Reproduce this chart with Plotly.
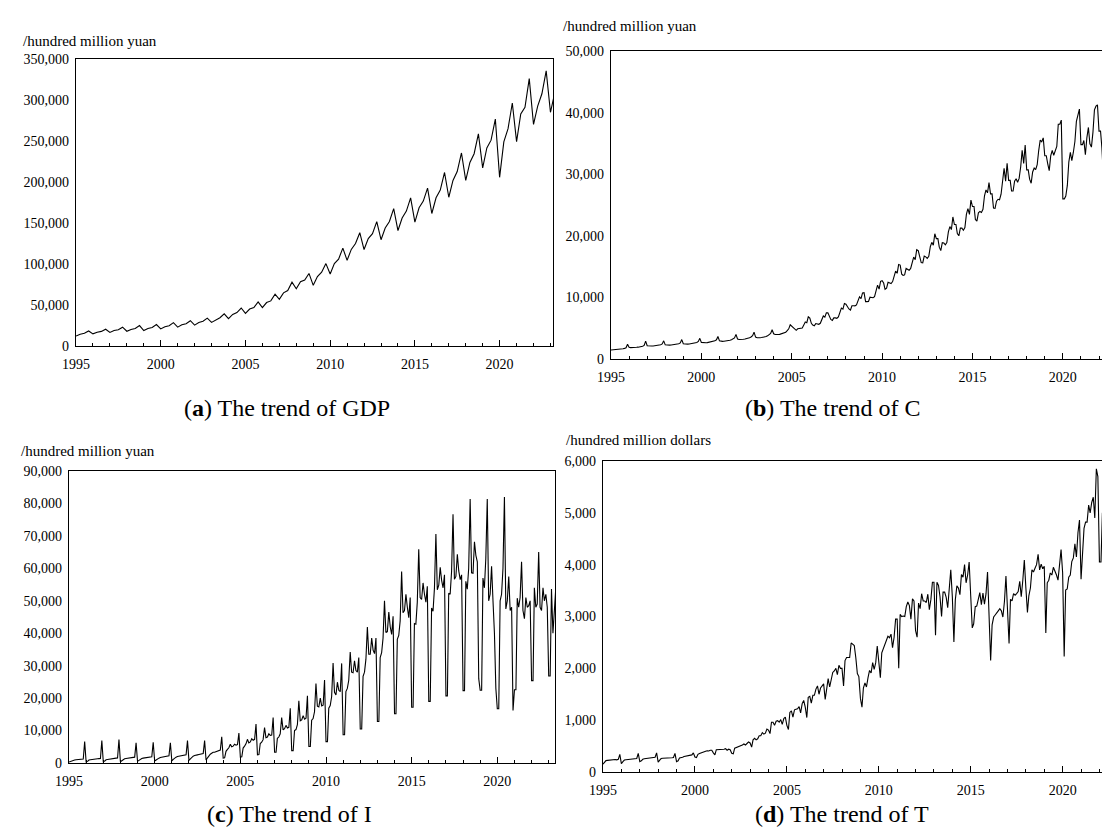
import pandas as pd
import plotly.graph_objects as go

# ---------------- data ----------------
# (a) GDP, quarterly, hundred million yuan, 1995Q1 - 2023Q2
gdp_values = [
    12200, 14400, 15500, 18300,
    14800, 16800, 17800, 20500,
    16500, 18800, 19900, 22900,
    18000, 20200, 21300, 24900,
    18900, 21400, 22500, 26200,
    20800, 23500, 24800, 28500,
    23000, 25800, 27200, 30800,
    25400, 28600, 30200, 34000,
    28800, 32000, 34500, 39200,
    33400, 38500, 40700, 46300,
    39800, 45000, 46800, 53800,
    46800, 53000, 55000, 63200,
    57000, 64800, 67600, 77800,
    69800, 78500, 80500, 88500,
    74000, 84600, 90000, 100500,
    87900, 100500, 106000, 119300,
    104500, 117800, 125000, 138200,
    117600, 131000, 137000, 151700,
    129600, 143900, 151900, 167500,
    140800, 156000, 164500, 180700,
    151100, 168500, 176700, 192500,
    161600, 180700, 190100, 211600,
    181400, 201900, 212800, 235400,
    202000, 223900, 234500, 258800,
    217200, 241500, 251000, 276800,
    205700, 249000, 265000, 296300,
    249300, 282900, 291000, 326100,
    270200, 292500, 307600, 335500,
    285000, 308000,
]

# (b) C, monthly, hundred million yuan, 1995-01 onwards
c_values = [
    1460, 1470, 1490, 1500, 1520, 1540, 1560, 1600, 1660, 1720, 1820, 2380,
    1900, 1850, 1840, 1860, 1880, 1900, 1920, 1960, 2020, 2080, 2200, 2900,
    2150, 2100, 2080, 2100, 2120, 2150, 2170, 2200, 2260, 2320, 2450, 2950,
    2300, 2250, 2230, 2250, 2270, 2300, 2320, 2360, 2420, 2480, 2620, 3150,
    2480, 2420, 2400, 2420, 2440, 2470, 2500, 2540, 2600, 2680, 2850, 3350,
    2700, 2640, 2620, 2640, 2660, 2700, 2730, 2780, 2850, 2950, 3120, 3650,
    2950, 2880, 2860, 2880, 2900, 2950, 2980, 3040, 3120, 3230, 3420, 4000,
    3250, 3170, 3150, 3170, 3200, 3250, 3290, 3350, 3440, 3570, 3780, 4350,
    3550, 3460, 3420, 3440, 3480, 3520, 3560, 3640, 3760, 3900, 4150, 4750,
    4100, 3980, 3940, 3970, 4000, 4060, 4120, 4200, 4350, 4600, 4900, 5550,
    5300, 5010, 4800, 4660, 4900, 4930, 4930, 5040, 5500, 6000, 5900, 6850,
    6640, 5790, 5520, 5380, 5750, 5750, 5630, 5790, 6300, 6990, 6800, 7500,
    7490, 6730, 6430, 6270, 6670, 6670, 6610, 6830, 7490, 8260, 8100, 9020,
    8900, 8350, 8120, 7950, 8640, 8640, 8630, 8770, 9450, 10080, 9790, 10730,
    10760, 9320, 9320, 9340, 10030, 10020, 9940, 10120, 11090, 12000, 11340, 12610,
    12720, 12330, 11320, 11510, 12460, 12330, 12250, 12570, 13540, 14280, 13910, 15330,
    15250, 13770, 13590, 13650, 14700, 14570, 14410, 14710, 15870, 16550, 16130, 17740,
    17580, 16300, 15650, 15600, 16710, 16580, 16320, 16660, 18230, 18930, 18480, 20330,
    19540, 19540, 18160, 17600, 18890, 18830, 18520, 18890, 20650, 21490, 21010, 23060,
    21830, 21830, 20360, 20000, 21250, 21250, 20900, 21350, 23520, 24400, 23480, 25800,
    24750, 24750, 22650, 22390, 23720, 23950, 23780, 24300, 26500, 27450, 26980, 28630,
    26800, 26800, 24520, 24450, 25630, 25930, 25860, 26750, 28810, 30960, 28870, 31760,
    29000, 29000, 27280, 27280, 28880, 29270, 28700, 29320, 31170, 33880, 31760, 34730,
    30700, 30700, 29190, 28540, 30360, 31000, 30730, 31540, 33880, 35530, 35260, 35890,
    33000, 33000, 31730, 30590, 32960, 33880, 33070, 33900, 34500, 38100, 38100, 38780,
    26000, 26000, 26450, 28180, 31970, 33530, 32200, 33570, 35300, 38580, 39510, 40570,
    34800, 34800, 35480, 33150, 35950, 37590, 34930, 34400, 36830, 40450, 41040, 41270,
    37000, 37000, 34230, 29480, 33550, 38740, 35870, 36260, 37750, 40270, 38610, 40540,
    38500, 38500, 37320, 34910, 37800, 39950,
]

# (c) I, monthly, hundred million yuan
i_values = [
    300, 500, 700, 800, 900, 1000, 1000, 1050, 1100, 1150, 1200, 6600,
    300, 500, 900, 1000, 1100, 1200, 1200, 1250, 1300, 1350, 1400, 6900,
    400, 600, 1000, 1100, 1200, 1300, 1300, 1400, 1450, 1500, 1550, 7200,
    400, 700, 1100, 1300, 1400, 1500, 1500, 1600, 1700, 1750, 1800, 6200,
    500, 800, 1200, 1400, 1500, 1600, 1600, 1700, 1800, 1850, 1900, 6400,
    600, 900, 1300, 1500, 1700, 1800, 1800, 1900, 2000, 2100, 2200, 6200,
    700, 1100, 1500, 1800, 2000, 2100, 2100, 2200, 2300, 2400, 2500, 6900,
    800, 1300, 1800, 2100, 2300, 2500, 2500, 2600, 2700, 2800, 2900, 6900,
    900, 1600, 2200, 2700, 3000, 3300, 3300, 3500, 3600, 3800, 4000, 8100,
    1500, 1600, 3600, 4200, 4700, 5800, 5000, 5200, 5800, 5500, 5700, 9200,
    1800, 1900, 4600, 5200, 5900, 7300, 6200, 6500, 7500, 7000, 7300, 12000,
    2500, 2600, 6000, 6400, 7200, 10900, 7800, 8000, 9000, 8500, 8600, 14000,
    3300, 3300, 7600, 8000, 9000, 14000, 10200, 10600, 11600, 10800, 11000, 16900,
    3800, 3800, 10000, 10300, 11800, 19200, 13000, 13300, 14600, 13500, 13800, 20700,
    5100, 5100, 13200, 13700, 15800, 24500, 17500, 17300, 20000, 17600, 17800, 25600,
    6600, 6600, 16900, 17700, 20400, 30800, 21800, 21000, 24900, 22400, 22000, 30700,
    8700, 8700, 22000, 23000, 25500, 34200, 28000, 27800, 31500, 28500, 28000, 32500,
    10500, 10500, 26700, 28000, 32000, 41900, 33500, 33500, 38500, 34800, 33700, 38500,
    12800, 12800, 32500, 34000, 38500, 50000, 40200, 40500, 46500, 42000, 39600, 45200,
    15200, 15200, 38100, 39300, 43800, 59000, 46300, 47000, 52000, 48000, 44800, 51000,
    17200, 17200, 43000, 42800, 49500, 65900, 51000, 50400, 55500, 52000, 49600, 54500,
    19000, 19000, 47800, 46800, 53900, 70600, 53400, 54800, 60300, 56300, 54000, 58000,
    20700, 20700, 52300, 52000, 59000, 76700, 56600, 57500, 64300, 59200, 56500, 58000,
    22300, 22300, 56000, 53600, 60000, 81400, 58600, 58500, 68200, 64000, 62000, 26000,
    22400, 22400, 57000, 54000, 63000, 81400, 50000, 52000, 60600, 50000, 40000, 23000,
    16700, 16700, 50000, 52000, 60000, 82000, 47500, 50000, 57500, 47000, 48000, 16200,
    22600, 22600, 50800, 48000, 51000, 62000, 47000, 44500, 51000, 48000, 48500, 50000,
    25400, 25400, 54000, 48000, 49000, 65000, 48000, 47000, 54000, 50000, 52000, 48000,
    26800, 26800, 53600, 40000, 47000, 54000,
]

# (d) T, monthly, hundred million dollars
t_values = [
    150, 190, 220, 225, 230, 235, 230, 235, 240, 235, 245, 340,
    160, 200, 230, 235, 240, 245, 245, 250, 250, 255, 260, 360,
    200, 215, 245, 255, 260, 265, 270, 270, 275, 280, 285, 370,
    190, 230, 260, 265, 265, 270, 270, 265, 270, 275, 280, 360,
    200, 215, 270, 275, 285, 300, 305, 310, 320, 325, 330, 370,
    290, 280, 340, 355, 370, 385, 390, 400, 410, 405, 420, 420,
    370, 330, 430, 430, 430, 440, 440, 440, 450, 420, 440, 430,
    360, 350, 460, 470, 480, 490, 500, 520, 540, 520, 550, 580,
    560, 480, 620, 650, 620, 640, 700, 700, 760, 730, 750, 830,
    810, 740, 960, 960, 900, 980, 990, 960, 1010, 920, 1030, 1060,
    900, 820, 1150, 1180, 1060, 1200, 1210, 1220, 1260, 1140, 1320, 1380,
    1250, 1050, 1440, 1460, 1330, 1480, 1480, 1600, 1660, 1500, 1620, 1670,
    1700, 1400, 1650, 1800, 1640, 1800, 1920, 1950, 2000, 1880, 2060, 2000,
    2000, 1660, 2150, 2210, 2210, 2210, 2490, 2460, 2440, 2210, 1900, 1840,
    1420, 1250, 1620, 1720, 1640, 1820, 1960, 1910, 2110, 1980, 2110, 2430,
    2050, 1820, 2300, 2380, 2430, 2540, 2620, 2590, 2660, 2400, 2600, 2950,
    2950, 2000, 3040, 3000, 3010, 3000, 3190, 3280, 3210, 2950, 3340, 3300,
    2730, 2600, 3260, 3150, 3440, 3300, 3300, 3270, 3430, 3130, 3330, 3660,
    3660, 2640, 3660, 3600, 3380, 3000, 3470, 3470, 3370, 3170, 3590, 3900,
    3380, 2510, 3320, 3590, 3550, 3420, 3810, 3760, 4000, 3650, 3800, 4050,
    3400, 2780, 2860, 3190, 3200, 3370, 3460, 3230, 3450, 3240, 3440, 3860,
    2930, 2150, 2840, 2990, 3030, 3080, 3110, 3150, 3110, 2990, 3290, 3780,
    3130, 2480, 3330, 3300, 3440, 3410, 3440, 3480, 3680, 3380, 3700, 4090,
    3550, 3080, 3400, 3550, 3900, 3860, 3930, 4000, 4200, 3900, 4010, 3920,
    3970, 2680, 3650, 3700, 3840, 3800, 3950, 3890, 3800, 3700, 3970, 4290,
    3850, 2230, 3510, 3530, 3760, 3800, 4060, 4130, 4400, 4150, 4620, 4860,
    3720, 4180, 4700, 4820, 4820, 5150, 5000, 5200, 5300, 4900, 5850, 5700,
    4050, 4050, 5000, 4950, 5000, 5550, 5600, 5550, 5450, 5100, 5300, 5150,
    4400, 4400, 5050, 5000, 5010, 5000,
]

captions = ["The trend of GDP", "The trend of C", "The trend of I", "The trend of T"]
caption_letters = ["a", "b", "c", "d"]
unit_labels = ["/hundred million yuan", "/hundred million yuan",
               "/hundred million yuan", "/hundred million dollars"]

# dates
gdp_x = pd.date_range("1995-01-01", periods=len(gdp_values), freq="QS")
c_x = pd.date_range("1995-01-01", periods=len(c_values), freq="MS")
i_x = pd.date_range("1995-01-01", periods=len(i_values), freq="MS")
t_x = pd.date_range("1995-01-01", periods=len(t_values), freq="MS")

W, H = 1110, 827
FONT = "Liberation Serif, Times New Roman, serif"


def fx(px):
    return px / W


def fy(py):
    return 1 - py / H


# panel boxes in pixels: left, right, top, bottom
panels = [
    (68, 545, 51, 338),
    (603, 1110, 43, 351),
    (61, 547, 463, 755),
    (595, 1110, 453, 764),
]
x_ends = ["2023-02-25", "2023-01-20", "2023-05-15", "2023-01-05"]
y_max = [350000, 50000, 90000, 6000]
y_dtick = [50000, 10000, 10000, 1000]
series = [(gdp_x, gdp_values), (c_x, c_values), (i_x, i_values), (t_x, t_values)]
unit_pos = [(13, 33), (553, 18), (11, 443), (556, 432)]
cap_pos = [(279, 400), (825, 400), (281, 806), (834, 806)]

fig = go.Figure()

for k in range(4):
    xs, ys = series[k]
    ax = "" if k == 0 else str(k + 1)
    fig.add_trace(go.Scatter(
        x=xs, y=ys, mode="lines",
        line=dict(color="black", width=1.1),
        xaxis="x" + ax, yaxis="y" + ax, showlegend=False,
        hoverinfo="skip",
    ))
    l, r, t, b = panels[k]
    fig.update_layout({
        "xaxis" + ax: dict(
            domain=[fx(l), fx(r)], anchor="y" + ax, type="date",
            range=["1995-01-01", x_ends[k]], automargin=False,
            tick0="1995-01-01", dtick="M60", tickformat="%Y",
            ticks="inside", ticklen=6, tickwidth=1, tickcolor="black",
            minor=dict(dtick="M12", ticks="inside", ticklen=3,
                       tickwidth=1, tickcolor="black"),
            showline=True, linecolor="black", linewidth=1.3, mirror=True,
            showgrid=False, zeroline=False, ticklabelstandoff=5,
            tickfont=dict(family=FONT, size=14, color="black"),
        ),
        "yaxis" + ax: dict(
            domain=[fy(b), fy(t)], anchor="x" + ax, automargin=False,
            range=[0, y_max[k]], dtick=y_dtick[k], tickformat=",",
            ticks="", showline=True, linecolor="black", linewidth=1.3,
            mirror=(k in (0, 2)), ticklabelstandoff=3,
            showgrid=False, zeroline=False,
            tickfont=dict(family=FONT, size=14, color="black"),
        ),
    })
    ux, uy = unit_pos[k]
    fig.add_annotation(
        text=unit_labels[k], xref="paper", yref="paper",
        x=fx(ux), y=fy(uy), xanchor="left", yanchor="middle",
        showarrow=False, font=dict(family=FONT, size=15, color="black"),
    )
    cx, cy = cap_pos[k]
    fig.add_annotation(
        text="(<b>" + caption_letters[k] + "</b>) " + captions[k],
        xref="paper", yref="paper",
        x=fx(cx), y=fy(cy), xanchor="center", yanchor="middle",
        showarrow=False, font=dict(family=FONT, size=24, color="black"),
    )

fig.update_layout(
    template="none",
    width=W, height=H,
    margin=dict(l=0, r=0, t=0, b=0),
    paper_bgcolor="white", plot_bgcolor="white",
)

fig.write_html("out.html")
